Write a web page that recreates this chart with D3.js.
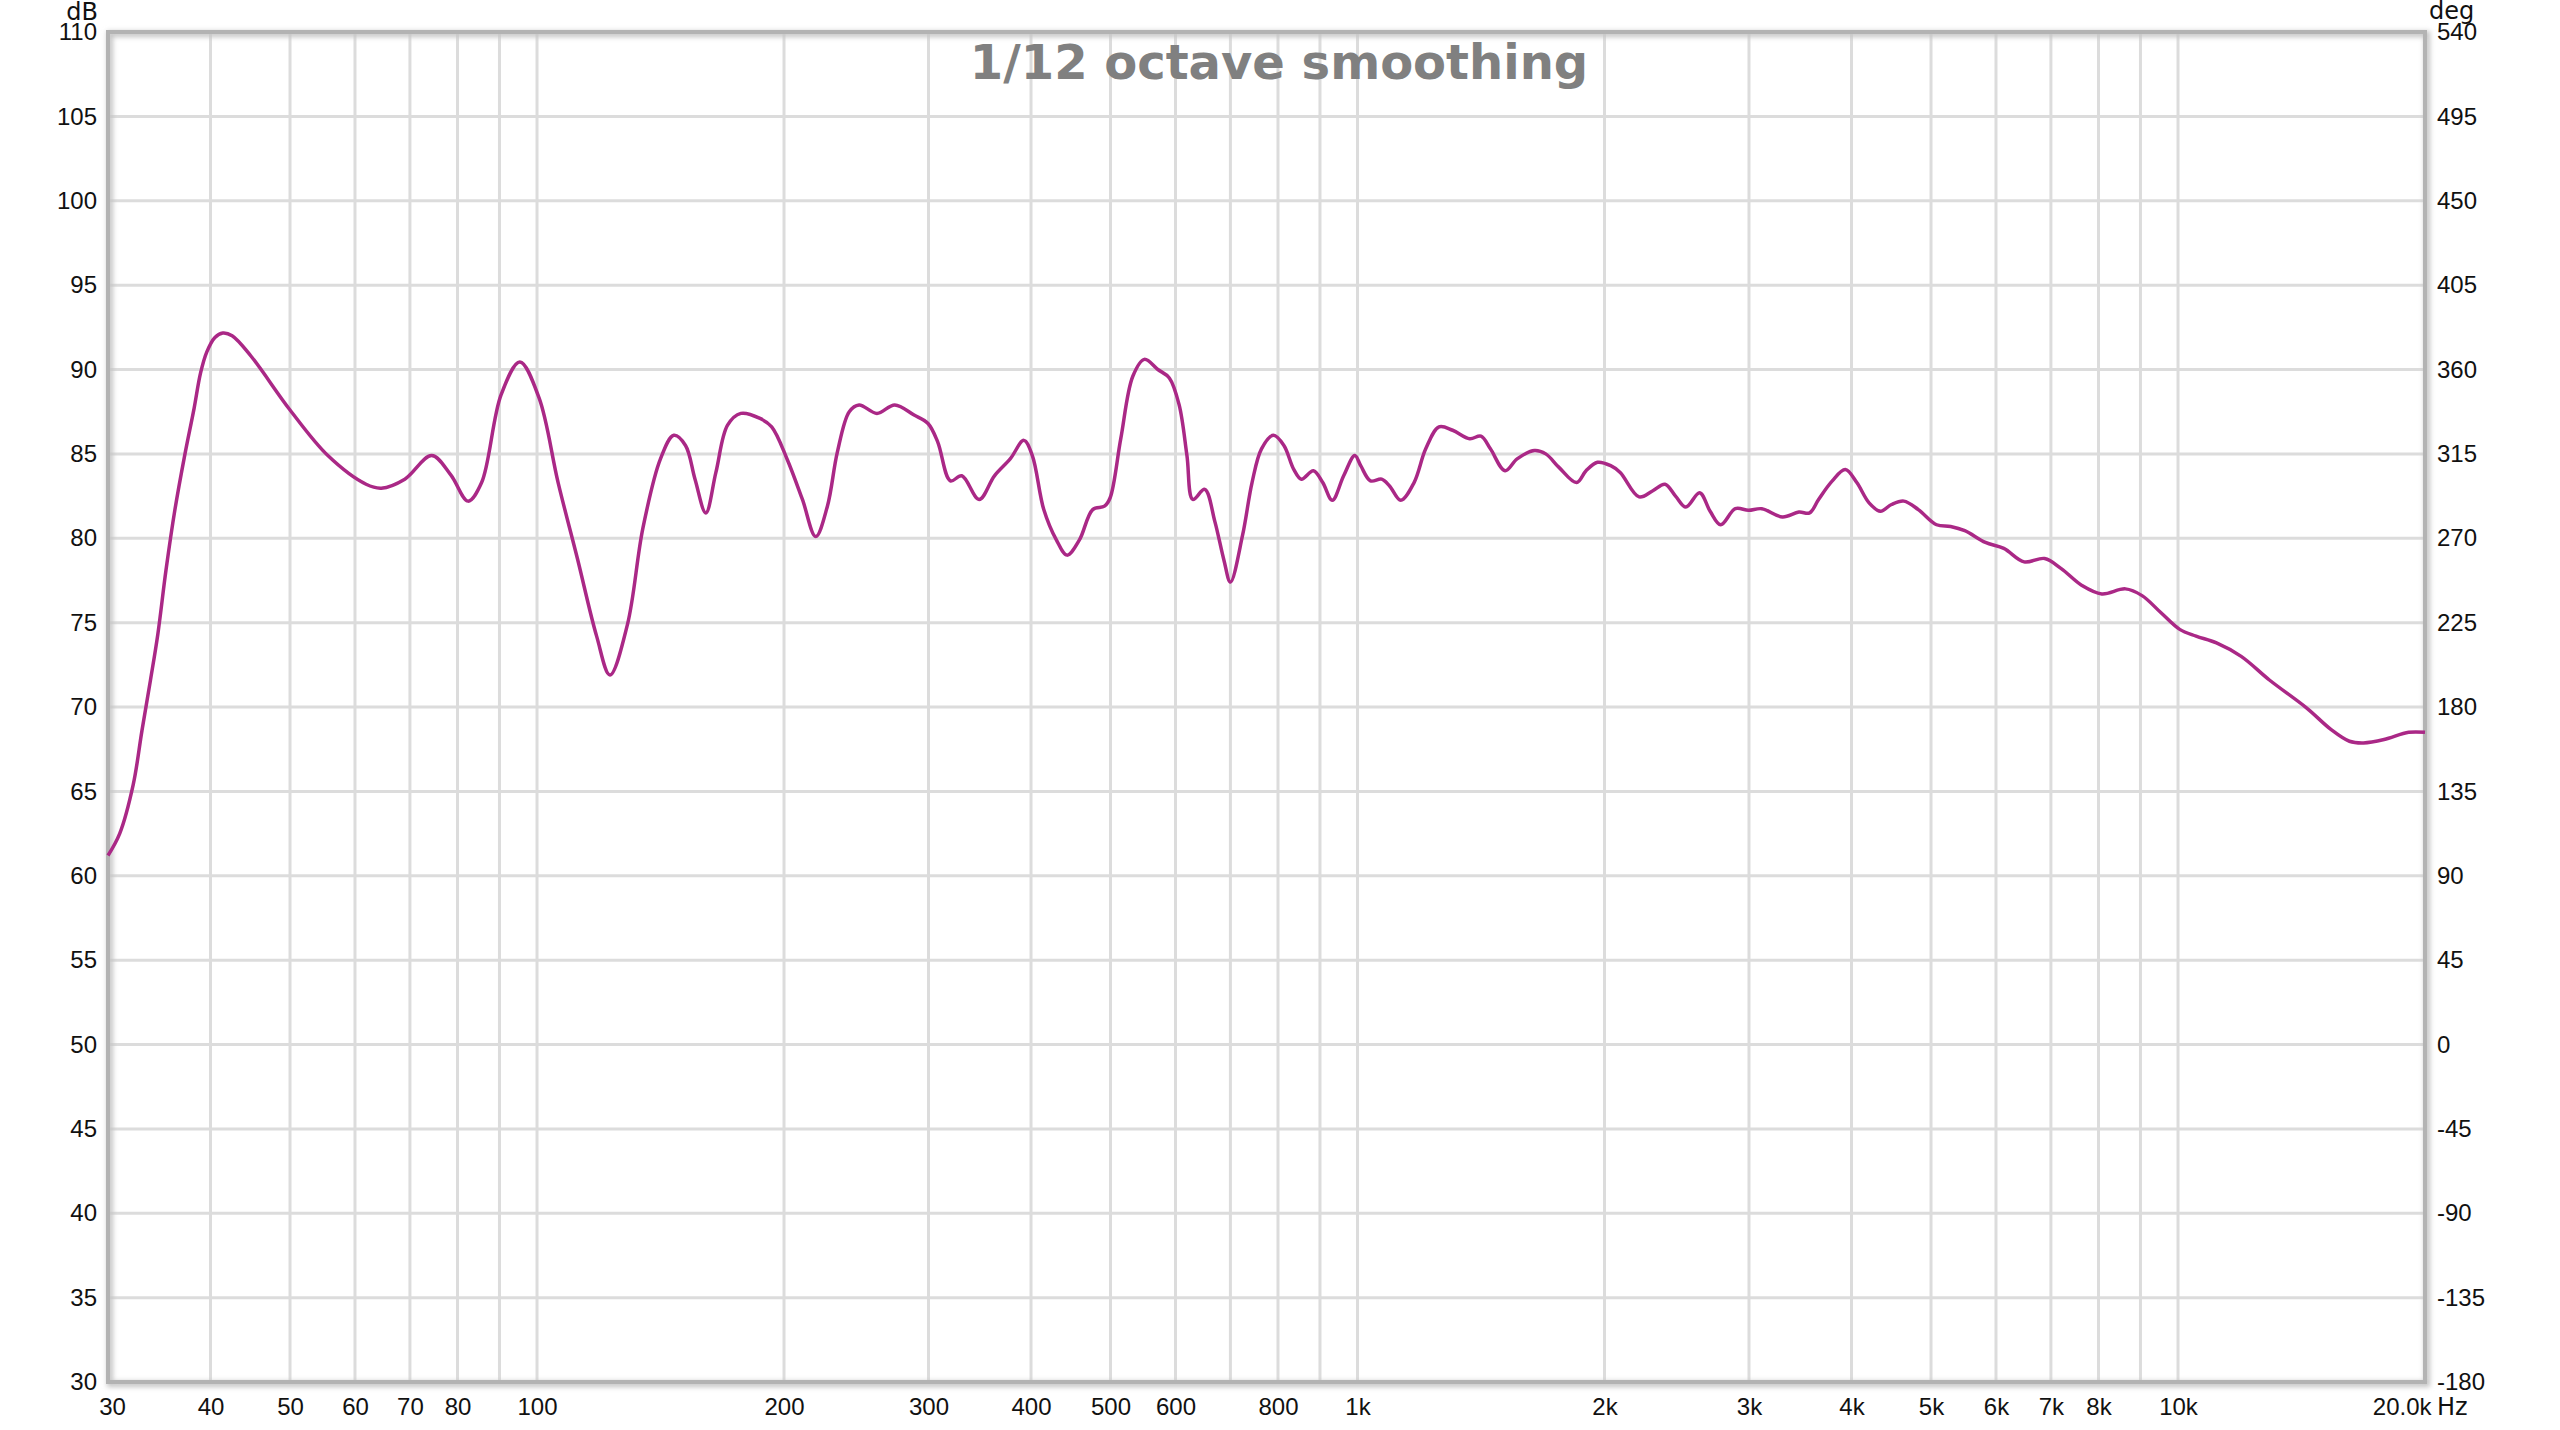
<!DOCTYPE html>
<html>
<head>
    <meta charset="utf-8">
    <title>1/12 octave smoothing</title>
    <script src="https://d3js.org/d3.v7.min.js"></script>
    <style>
        body { margin:0; background:#fff; }
        svg { display:block; font-family:'DejaVu Sans', sans-serif; }
        .axis text { font-size:24px; fill:#111; }
        .axis path { display:none; }
    </style>
</head>
<body>
<svg width="2560" height="1430"></svg>
<script>

    // frequency (Hz) and level (dB)
    const freqs = [30, 31, 32.2, 33, 33.8, 34.5, 35.3, 36.2, 37.2, 38.2, 38.9, 39.6, 40.5, 41.4, 42.5, 44.8, 50, 55.6, 61.9, 64.6, 69, 74.4, 78.5,
        82.4, 85.6, 90.4, 95.3, 100.6, 106.1, 112, 118.2, 122.7, 128.9, 134.6, 141.4, 146.8, 151.7, 155.8, 160.6,
        165.2, 170.7, 177.2, 187, 193.2, 201.7, 210.6, 218.6, 225.9, 232.3, 240.2, 246.9, 259.6, 272.9, 288.1,
        299.6, 307.9, 319, 329.4, 345.8, 361, 377.3, 392.1, 401.5, 414.6, 429.5, 442.6, 458.2, 475.6, 491.6,
        499.5, 514.6, 532.3, 549.8, 571, 589.7, 606.2, 619.6, 629.9, 651.3, 670, 687.4, 700, 724.4, 743.8,
        763.8, 789.7, 813.4, 835.8, 854.4, 883.5, 907, 931.7, 961.9, 992.5, 1009, 1037, 1070, 1094, 1129,
        1172, 1211, 1257, 1306, 1370, 1414, 1452, 1513, 1565, 1643, 1696, 1760, 1849, 1899, 1961, 2035,
        2090, 2204, 2288, 2370, 2441, 2513, 2612, 2690, 2771, 2887, 2996, 3110, 3296, 3451, 3556, 3647,
        3790, 3931, 4060, 4202, 4338, 4475, 4633, 4825, 5079, 5283, 5497, 5825, 6133, 6494, 6878, 7206,
        7637, 8075, 8628, 9040, 9527, 10048, 10520, 11140, 11940, 12924, 14340, 15370, 16177, 16830,
        17830, 19107, 20000];
    const levels = [61.2, 62.5, 65.4, 68.6, 71.6, 74.3, 78.1, 81.7, 84.9, 87.7, 89.8, 91.06, 91.9, 92.16, 92.0, 90.8, 87.6, 84.9, 83.2, 82.97, 83.5, 84.9, 83.76,
        82.2, 83.3, 88.5, 90.45, 88.3, 83.3, 78.8, 74.2, 71.9, 74.9, 80.6, 84.7, 86.1, 85.5, 83.5, 81.5,
        83.9, 86.7, 87.4, 87.1, 86.6, 84.7, 82.3, 80.1, 81.9, 85.1, 87.5, 87.9, 87.4, 87.9, 87.3,
        86.8, 85.7, 83.4, 83.7, 82.3, 83.7, 84.7, 85.8, 84.9, 81.7, 79.9, 79.0, 79.9, 81.7, 81.9,
        82.4, 85.9, 89.6, 90.6, 90.0, 89.5, 87.9, 84.9, 82.3, 82.9, 81.0, 78.7, 77.4, 80.2, 83.3,
        85.3, 86.1, 85.5, 84.1, 83.5, 84.0, 83.3, 82.25, 83.7, 84.9, 84.3, 83.4, 83.5, 83.1, 82.25,
        83.3, 85.3, 86.6, 86.4, 85.9, 86.05, 85.3, 84.0, 84.7, 85.2, 85.0, 84.2, 83.3, 84.0, 84.5, 84.3,
        83.9, 82.45, 82.8, 83.2, 82.5, 81.85, 82.7, 81.6, 80.8, 81.75, 81.66, 81.75, 81.26, 81.55, 81.5, 82.3,
        83.4, 84.07, 83.3, 82.1, 81.6, 82.0, 82.2, 81.7, 80.8, 80.7, 80.45, 79.75, 79.4, 78.6, 78.8, 78.2,
        77.2, 76.7, 77.0, 76.6, 75.6, 74.6, 74.2, 73.8, 73.0, 71.6, 69.95, 68.66, 67.97, 67.87,
        68.07, 68.5, 68.5];

    // axis ticks
    const dbTicks = d3.range(30, 111, 5);
    const degTicks = d3.range(-180, 541, 45);
    const gridFreqs = [40, 50, 60, 70, 80, 90, 100, 200, 300, 400, 500, 600, 700, 800, 900,
        1000, 2000, 3000, 4000, 5000, 6000, 7000, 8000, 9000, 10000];
    const labelFreqs = [30, 40, 50, 60, 70, 80, 100, 200, 300, 400, 500, 600, 800, 1000,
        2000, 3000, 4000, 5000, 6000, 7000, 8000, 10000, 20000];
    const freqLabels = ['30', '40', '50', '60', '70', '80', '100', '200', '300', '400', '500', '600', '800', '1k',
        '2k', '3k', '4k', '5k', '6k', '7k', '8k', '10k', '20.0k'];

    let svg = d3.select('svg');
    let margin = { top: 32, left: 108, right: 135, bottom: 48 };
    let width = 2560, height = 1430;
    let innerWidth = width - margin.left - margin.right;
    let innerHeight = height - margin.top - margin.bottom;

    let defs = svg.append('defs');
    let shadow = defs.append('filter').attr('id', 'shadow')
        .attr('x', '-5%').attr('y', '-5%').attr('width', '110%').attr('height', '110%');
    shadow.append('feGaussianBlur').attr('stdDeviation', 2.5);

    let g = svg.append('g')
        .attr('transform', `translate(${margin.left},${margin.top})`);

    let xScale = d3.scaleLog().domain([30, 20000]).range([0, innerWidth]);
    let yScale = d3.scaleLinear().domain([30, 110]).range([innerHeight, 0]);
    let degScale = d3.scaleLinear().domain([-180, 540]).range([innerHeight, 0]);

    // grid
    g.selectAll('.hgrid')
        .data(dbTicks.slice(1, -1))
        .join('line')
        .attr('x1', 0).attr('x2', innerWidth)
        .attr('y1', d => yScale(d)).attr('y2', d => yScale(d))
        .style('stroke', '#dcdcdc').style('stroke-width', 3);
    g.selectAll('.vgrid')
        .data(gridFreqs)
        .join('line')
        .attr('x1', d => xScale(d)).attr('x2', d => xScale(d))
        .attr('y1', 0).attr('y2', innerHeight)
        .style('stroke', '#dcdcdc').style('stroke-width', 3);

    // frame with soft shadow
    g.append('rect')
        .attr('x', 2).attr('y', 2)
        .attr('width', innerWidth).attr('height', innerHeight)
        .style('fill', 'none').style('stroke', '#c4c4c4').style('stroke-width', 6)
        .attr('filter', 'url(#shadow)');
    g.append('rect')
        .attr('width', innerWidth).attr('height', innerHeight)
        .style('fill', 'none').style('stroke', '#b3b3b3').style('stroke-width', 4);

    // axes
    g.append('g').attr('class', 'axis')
        .call(d3.axisLeft(yScale).tickValues(dbTicks).tickSize(0).tickPadding(11));
    g.append('g').attr('class', 'axis')
        .attr('transform', `translate(${innerWidth},0)`)
        .call(d3.axisRight(degScale).tickValues(degTicks).tickSize(0).tickPadding(12)
            .tickFormat(d => String(d)));
    let xAxis = g.append('g').attr('class', 'axis')
        .attr('transform', `translate(0,${innerHeight})`)
        .call(d3.axisBottom(xScale).tickValues(labelFreqs).tickSize(0).tickPadding(16)
            .tickFormat((d, i) => freqLabels[i]));
    xAxis.selectAll('text')
        .attr('text-anchor', (d, i) => i === labelFreqs.length - 1 ? 'end' : 'middle')
        .attr('dx', (d, i) => i === 0 ? 4 : (i === labelFreqs.length - 1 ? 6 : 0));

    // unit labels
    g.append('text').attr('x', innerWidth + 12).attr('y', innerHeight + 33)
        .style('font-size', '24px').style('fill', '#111').text('Hz');
    g.append('text').attr('x', -10).attr('y', -12).attr('text-anchor', 'end')
        .style('font-size', '24px').style('fill', '#111').text('dB');
    g.append('text').attr('x', innerWidth + 4).attr('y', -13)
        .style('font-size', '24px').style('fill', '#111').text('deg');

    // title
    g.append('text')
        .attr('x', 1279 - margin.left).attr('y', 47)
        .attr('text-anchor', 'middle')
        .style('font-size', '48px').style('font-weight', 'bold').style('fill', '#808080')
        .text('1/12 octave smoothing');

    // trace
    let line = d3.line()
        .x((d, i) => xScale(freqs[i]))
        .y((d, i) => yScale(levels[i]))
        .curve(d3.curveCatmullRom.alpha(0.5));
    g.append('path')
        .datum(freqs)
        .attr('d', line)
        .style('fill', 'none')
        .style('stroke', '#aa2886')
        .style('stroke-width', 3.5)
        .style('stroke-linejoin', 'round');

</script>
</body>
</html>
